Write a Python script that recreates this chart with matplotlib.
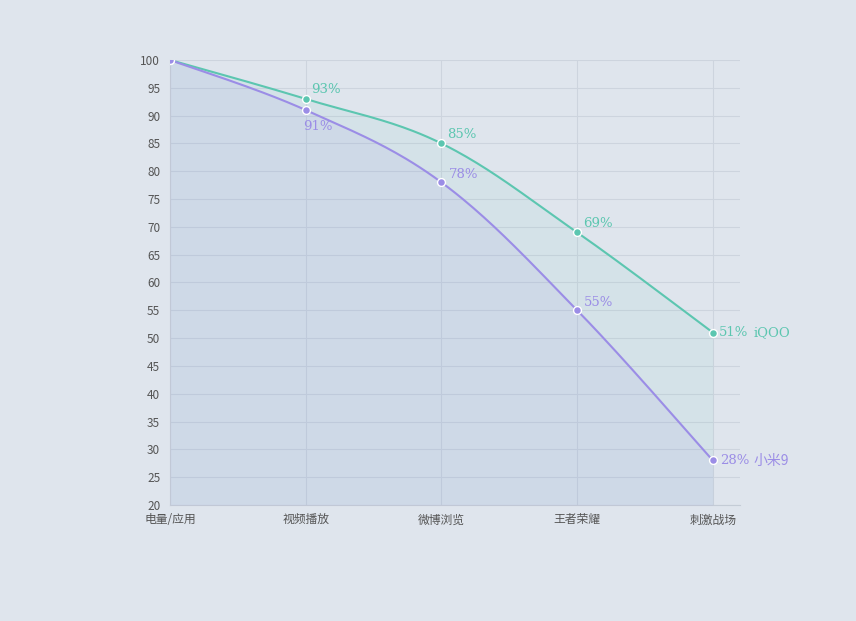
import numpy as np
import matplotlib
matplotlib.use("Agg")
import matplotlib.pyplot as plt

categories = ["电量/应用", "视频播放", "微博浏览", "王者荣耀", "刺激战场"]
iqoo = [100, 93, 85, 69, 51]
mi9 = [100, 91, 78, 55, 28]

BG = "#dfe5ed"
TEAL = "#5cc6b0"
PURPLE = "#9b8de6"

plt.rcParams['font.family'] = ['Noto Sans CJK SC', 'DejaVu Sans']


def smooth(xs, ys, n=40, k=0.35):
    # cubic bezier through each point, control points from neighbours
    xs = np.asarray(xs, float)
    ys = np.asarray(ys, float)
    px, py = [], []
    for i in range(len(xs) - 1):
        p0 = (xs[i], ys[i])
        p3 = (xs[i + 1], ys[i + 1])
        prev = (xs[i - 1], ys[i - 1]) if i > 0 else p0
        nxt = (xs[i + 2], ys[i + 2]) if i + 2 < len(xs) else p3
        c1 = (p0[0] + k * (p3[0] - prev[0]) / 2, p0[1] + k * (p3[1] - prev[1]) / 2)
        c2 = (p3[0] - k * (nxt[0] - p0[0]) / 2, p3[1] - k * (nxt[1] - p0[1]) / 2)
        t = np.linspace(0, 1, n)
        bx = (1 - t)**3 * p0[0] + 3 * (1 - t)**2 * t * c1[0] + 3 * (1 - t) * t**2 * c2[0] + t**3 * p3[0]
        by = (1 - t)**3 * p0[1] + 3 * (1 - t)**2 * t * c1[1] + 3 * (1 - t) * t**2 * c2[1] + t**3 * p3[1]
        px.extend(bx)
        py.extend(by)
    return np.array(px), np.array(py)


fig = plt.figure(figsize=(8.56, 6.21), dpi=100, facecolor=BG)
ax = fig.add_axes([0.1986, 0.1868, 0.6659, 0.7166], facecolor=BG)

x = np.arange(len(categories))

sx, sy = smooth(x, iqoo)
ax.fill_between(sx, 20, sy, color=TEAL, alpha=0.08, lw=0, zorder=2)
ax.plot(sx, sy, color=TEAL, lw=1.5, zorder=4)
mx, my = smooth(x, mi9)
ax.fill_between(mx, 20, my, color=PURPLE, alpha=0.1, lw=0, zorder=3)
ax.plot(mx, my, color=PURPLE, lw=1.5, zorder=5)

ax.scatter(x, iqoo, s=32, color=TEAL, edgecolor="white", linewidth=1.0, zorder=6)
ax.scatter(x, mi9, s=32, color=PURPLE, edgecolor="white", linewidth=1.0, zorder=7)

serif = ['DejaVu Serif']
for i, v in enumerate(iqoo):
    if i == 0:
        continue
    ax.annotate(f"{v}%", (x[i], v), xytext=(4, 2 if i < 4 else 0), textcoords="offset points",
                ha="left", va="bottom" if i < 4 else "center", color=TEAL,
                fontsize=9.5, family=serif, zorder=8)
for i, v in enumerate(mi9):
    if i == 0:
        continue
    if i == 1:
        ax.annotate(f"{v}%", (x[i], v), xytext=(-2, -7), textcoords="offset points",
                    ha="left", va="top", color=PURPLE, fontsize=9.5, family=serif, zorder=8)
    else:
        ax.annotate(f"{v}%", (x[i], v), xytext=(5, 1 if i < 4 else 0), textcoords="offset points",
                    ha="left", va="bottom" if i < 4 else "center", color=PURPLE,
                    fontsize=9.5, family=serif, zorder=8)

ax.annotate("iQOO", (x[-1], iqoo[-1]), xytext=(29, 0), textcoords="offset points",
            ha="left", va="center", color=TEAL, fontsize=9.5, family=serif)
ax.annotate("小米9", (x[-1], mi9[-1]), xytext=(29, 0), textcoords="offset points",
            ha="left", va="center", color=PURPLE, fontsize=10,
            family=['Noto Sans CJK SC', 'DejaVu Serif'])

ax.set_xlim(0, 4.2)
ax.set_ylim(20, 100)
ax.set_yticks(range(20, 101, 5))
ax.set_xticks(x)
ax.set_xticklabels(categories)
ax.tick_params(length=0, labelsize=8.5, colors="#555555")
ax.tick_params(axis="y", pad=7)
ax.tick_params(axis="x", pad=6)
ax.grid(True, color="#cdd4de", lw=0.8, zorder=0)
ax.set_axisbelow(True)
for s in ["top", "right"]:
    ax.spines[s].set_visible(False)
for s in ["left", "bottom"]:
    ax.spines[s].set_color("#c4ccd6")
    ax.spines[s].set_linewidth(0.8)

fig.savefig("out.png", dpi=100, facecolor=BG)
